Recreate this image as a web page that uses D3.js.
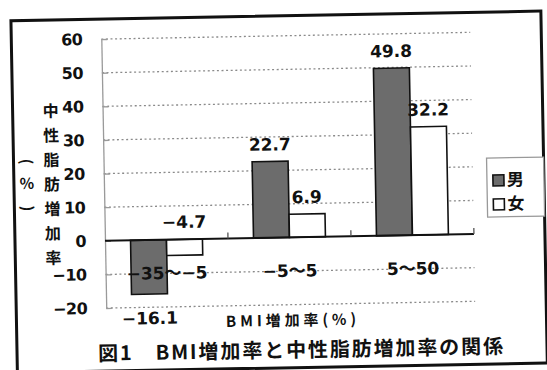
<!DOCTYPE html>
<html>
<head>
<meta charset="utf-8">
<script src="https://cdn.jsdelivr.net/npm/d3@7"></script>
<style>
  body { margin: 0; background: #fff; }
  svg { display: block; }
</style>
</head>
<body>
<svg id="chart" width="547" height="370"></svg>
<script>
// Categories: BMI increase range (%)
const categories = ["−35～−5", "−5～5", "5～50"];
const seriesNames = ["男", "女"];
// Triglyceride increase rate (%) by sex
const maleValues = [-16.1, 22.7, 49.8];
const femaleValues = [-4.7, 6.9, 32.2];
const yTicks = [-20, -10, 0, 10, 20, 30, 40, 50, 60];
const yTitle = "中性脂肪増加率";
const yUnit = ["(", "%", ")"];
const xTitle = "BMI増加率(%)";
const chartTitle = "図1　BMI増加率と中性脂肪増加率の関係";

const JP = "'Noto Sans CJK JP', sans-serif";
const NUM = "'DejaVu Sans', 'Noto Sans CJK JP', sans-serif";
const maleFill = "#6c6c6c";

const svg = d3.select("#chart");
const g = svg.append("g").attr("transform", "rotate(-1.05 273 185)");

// outer frame
g.append("rect")
  .attr("x", 14).attr("y", 16).attr("width", 530).attr("height", 352)
  .attr("fill", "#fff").attr("stroke", "#111").attr("stroke-width", 3);

const plot = { left: 104, right: 473, top: 36, bottom: 305 };

const y = d3.scaleLinear().domain([-20, 60]).range([plot.bottom, plot.top]);
const x0 = d3.scaleBand().domain(categories).range([plot.left, plot.right]).padding(0);
const x1 = d3.scaleBand().domain(seriesNames).range([0, x0.bandwidth()])
  .paddingInner(0).paddingOuter(0.71);

// dotted gridlines
g.append("g").selectAll("line")
  .data(yTicks.filter(t => t !== 0))
  .join("line")
  .attr("x1", plot.left).attr("x2", plot.right)
  .attr("y1", d => y(d)).attr("y2", d => y(d))
  .attr("stroke", "#8a8a8a").attr("stroke-width", 1.3)
  .attr("stroke-dasharray", "2,2.6");

// value axis
const yAxis = g.append("g")
  .attr("transform", `translate(${plot.left},0)`)
  .call(d3.axisLeft(y).tickValues(yTicks).tickSize(-6).tickSizeOuter(0).tickPadding(19)
    .tickFormat(d => (d < 0 ? "−" : "") + Math.abs(d)));
yAxis.select(".domain").attr("stroke", "#9a9a9a").attr("stroke-width", 1.3);
yAxis.selectAll(".tick line").attr("stroke", "#9a9a9a").attr("stroke-width", 1.3);
yAxis.selectAll(".tick text")
  .attr("font-family", NUM).attr("font-weight", "bold").attr("font-size", 16)
  .attr("fill", "#111").attr("letter-spacing", -0.5);

// bars
const rows = categories.map((c, i) => ({ cat: c, values: [maleValues[i], femaleValues[i]] }));
const groups = g.append("g").selectAll("g")
  .data(rows)
  .join("g")
  .attr("transform", d => `translate(${x0(d.cat)},0)`);

groups.selectAll("rect")
  .data(d => d.values.map((v, j) => ({ key: seriesNames[j], v })))
  .join("rect")
  .attr("x", d => x1(d.key))
  .attr("width", x1.bandwidth())
  .attr("y", d => y(Math.max(0, d.v)))
  .attr("height", d => Math.abs(y(d.v) - y(0)))
  .attr("fill", d => d.key === "男" ? maleFill : "#fff")
  .attr("stroke", "#111").attr("stroke-width", 1.6);

// value labels
const fmt = v => (v < 0 ? "−" : "") + Math.abs(v).toFixed(1);
groups.selectAll("text.val")
  .data(d => d.values.map((v, j) => ({ key: seriesNames[j], v })))
  .join("text")
  .attr("class", "val")
  .attr("x", d => x1(d.key) + x1.bandwidth() / 2)
  .attr("y", d => {
    if (d.v >= 0) return y(d.v) - 11;
    return d.key === "男" ? y(d.v) + 30 : y(0) - 11.5;
  })
  .attr("text-anchor", "middle")
  .attr("font-family", NUM).attr("font-weight", "bold").attr("font-size", 17)
  .attr("fill", "#111")
  .text(d => fmt(d.v));

// category axis on zero line
g.append("line")
  .attr("x1", plot.left).attr("x2", plot.right)
  .attr("y1", y(0)).attr("y2", y(0))
  .attr("stroke", "#111").attr("stroke-width", 2);
g.append("g").selectAll("line")
  .data(categories)
  .join("line")
  .attr("x1", d => x0(d) + x0.step()).attr("x2", d => x0(d) + x0.step())
  .attr("y1", y(0)).attr("y2", y(0) - 6)
  .attr("stroke", "#555").attr("stroke-width", 1.3);

// category labels
g.append("g").selectAll("text")
  .data(categories)
  .join("text")
  .attr("x", d => x0(d) + x0.bandwidth() / 2)
  .attr("y", 271)
  .attr("dy", "0.36em")
  .attr("text-anchor", "middle")
  .attr("font-family", NUM).attr("font-weight", "bold").attr("font-size", 17)
  .attr("fill", "#111")
  .text(d => d);

// axis titles
g.append("text")
  .attr("x", (plot.left + plot.right) / 2).attr("y", 326)
  .attr("text-anchor", "middle")
  .attr("font-family", JP).attr("font-weight", "bold").attr("font-size", 15)
  .attr("textLength", 130).attr("lengthAdjust", "spacing")
  .attr("fill", "#111")
  .text(xTitle);

g.append("g").selectAll("text")
  .data(Array.from(yTitle))
  .join("text")
  .attr("x", 52)
  .attr("y", (d, i) => 107 + i * 24.5)
  .attr("dy", "0.36em")
  .attr("text-anchor", "middle")
  .attr("font-family", JP).attr("font-weight", "bold").attr("font-size", 16)
  .attr("fill", "#111")
  .text(d => d);

const unitY = [157, 179, 204];
g.append("g").selectAll("text")
  .data(yUnit)
  .join("text")
  .attr("transform", (d, i) => `translate(27,${unitY[i]})` + (d === "%" ? "" : " rotate(90)"))
  .attr("dy", "0.36em")
  .attr("text-anchor", "middle")
  .attr("font-family", JP).attr("font-weight", "bold").attr("font-size", 15)
  .attr("fill", "#111")
  .text(d => d);

// chart title
g.append("text")
  .attr("x", 95).attr("y", 357.5)
  .attr("font-family", JP).attr("font-weight", "bold").attr("font-size", 20)
  .attr("textLength", 405).attr("lengthAdjust", "spacing")
  .attr("fill", "#111")
  .text(chartTitle);

// legend
const legend = g.append("g");
legend.append("rect")
  .attr("x", 487).attr("y", 162).attr("width", 57).attr("height", 59)
  .attr("fill", "#fff").attr("stroke", "#999").attr("stroke-width", 1.3);
const items = legend.selectAll("g.item")
  .data(seriesNames)
  .join("g")
  .attr("class", "item")
  .attr("transform", (d, i) => `translate(493,${179 + i * 24})`);
items.append("rect")
  .attr("width", 11).attr("height", 11)
  .attr("fill", d => d === "男" ? maleFill : "#fff")
  .attr("stroke", "#111").attr("stroke-width", 1.6);
items.append("text")
  .attr("x", 14).attr("y", 11)
  .attr("font-family", JP).attr("font-weight", "bold").attr("font-size", 17)
  .attr("fill", "#111")
  .text(d => d);
</script>
</body>
</html>
